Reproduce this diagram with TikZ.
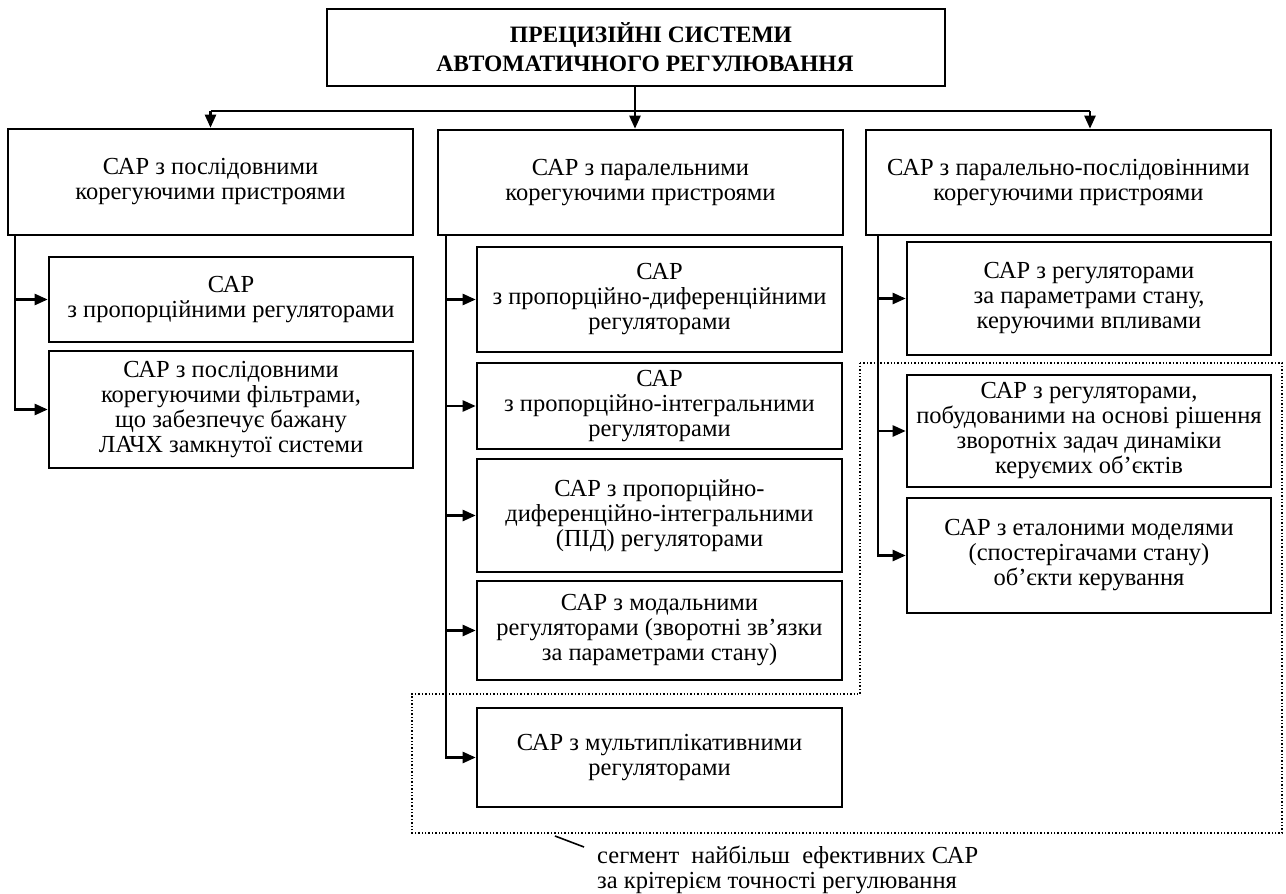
\documentclass[tikz,border=0pt]{standalone}
\usepackage{fontspec}
\setmainfont{Liberation Serif}
\usetikzlibrary{arrows.meta}
\begin{document}
\begin{tikzpicture}[x=1pt,y=-1pt,
  bx/.style={draw, line width=2.6pt, inner sep=0pt, align=center, font=\fontsize{24.5}{25}\selectfont},
  ttl/.style={bx, font=\bfseries\fontsize{23.5}{29}\selectfont},
  ln/.style={line width=2.4pt},
  arr/.style={ln, -{Triangle[length=13pt,width=11pt]}},
  seg/.style={line width=1.4pt, dash pattern=on 1.4pt off 2pt},
  captxt/.style={font=\fontsize{24.5}{25}\selectfont, align=left, inner sep=0pt, anchor=north west}]
\useasboundingbox (0,0) rectangle (1286,894);

% title
\node[ttl, minimum width=618, minimum height=77] (title) at (636,47.5)
  {\hspace*{30pt}ПРЕЦИЗІЙНІ СИСТЕМИ\\\hspace*{18pt}АВТОМАТИЧНОГО РЕГУЛЮВАННЯ};

% first level
\node[bx, minimum width=405, minimum height=106] (l1) at (210.5,182)
  {САР з послідовними\\корегуючими пристроями};
\node[bx, minimum width=405, minimum height=105] (m1) at (640.5,182.5)
  {САР з паралельними\\корегуючими пристроями};
\node[bx, minimum width=405, minimum height=105] (r1) at (1068.5,182.5)
  {САР з паралельно-послідовінними\\корегуючими пристроями};

% left column
\node[bx, minimum width=364, minimum height=85] (la) at (231,299.5)
  {САР\\з пропорційними регуляторами};
\node[bx, minimum width=364, minimum height=117] (lb) at (231,409.5)
  {САР з послідовними\\корегуючими фільтрами,\\що забезпечує бажану\\ЛАЧХ замкнутої системи};

% middle column
\node[bx, minimum width=365, minimum height=105] (ma) at (659.5,299.5)
  {САР\\з пропорційно-диференційними\\регуляторами};
\node[bx, minimum width=365, minimum height=86] (mb) at (659.5,406)
  {САР\\з пропорційно-інтегральними\\регуляторами};
\node[bx, minimum width=365, minimum height=113] (mc) at (659.5,515.5)
  {САР з пропорційно-\\диференційно-інтегральними\\(ПІД) регуляторами};
\node[bx, minimum width=365, minimum height=99] (md) at (659.5,630.5)
  {САР з модальними\\регуляторами (зворотні зв'язки\\за параметрами стану)};
\node[bx, minimum width=365, minimum height=99] (me) at (659.5,757.5)
  {САР з мультиплікативними\\регуляторами};

% right column
\node[bx, minimum width=364, minimum height=113] (ra) at (1089,298.5)
  {САР з регуляторами\\за параметрами стану,\\керуючими впливами};
\node[bx, minimum width=364, minimum height=112] (rb) at (1089,431)
  {САР з регуляторами,\\побудованими на основі рішення\\зворотніх задач динаміки\\керуємих об'єктів};
\node[bx, minimum width=364, minimum height=115] (rc) at (1089,555.5)
  {САР з еталоними моделями\\(спостерігачами стану)\\об'єкти керування};

% bus
\coordinate (bus) at (635,111);
\coordinate (busR) at (1090,111);
\draw[ln] (l1.north |- bus) -- (busR);
\draw[arr] (l1.north |- bus) -- (l1.north);
\draw[arr] (busR) -- (busR |- r1.north);
\draw[arr] (title.south -| bus) -- (bus |- m1.north);

% trunks
\coordinate (tl) at (15,0);
\coordinate (tm) at (446,0);
\coordinate (tr) at (878,0);
\draw[arr] (l1.south -| tl) |- (la.west);
\draw[arr] (l1.south -| tl) |- (lb.west);
\draw[arr] (m1.south -| tm) |- (ma.west);
\draw[arr] (m1.south -| tm) |- (mb.west);
\draw[arr] (m1.south -| tm) |- (mc.west);
\draw[arr] (m1.south -| tm) |- (md.west);
\draw[arr] (m1.south -| tm) |- (me.west);
\draw[arr] (r1.south -| tr) |- (ra.west);
\draw[arr] (r1.south -| tr) |- (rb.west);
\draw[arr] (r1.south -| tr) |- (rc.west);

% segment
\draw[seg] (860,363) -- (1282,363) -- (1282,833) -- (412,833) -- (412,694) -- (860,694) -- cycle;
\node[captxt] (capt) at (597,846)
  {сегмент\ \ найбільш\ \ ефективних САР\\за крітерієм точності регулювання};
\coordinate (ldA) at (555,836);
\coordinate (ldB) at (584,847);
\draw[line width=1.6pt] (ldA) -- (ldB);
\end{tikzpicture}
\end{document}
